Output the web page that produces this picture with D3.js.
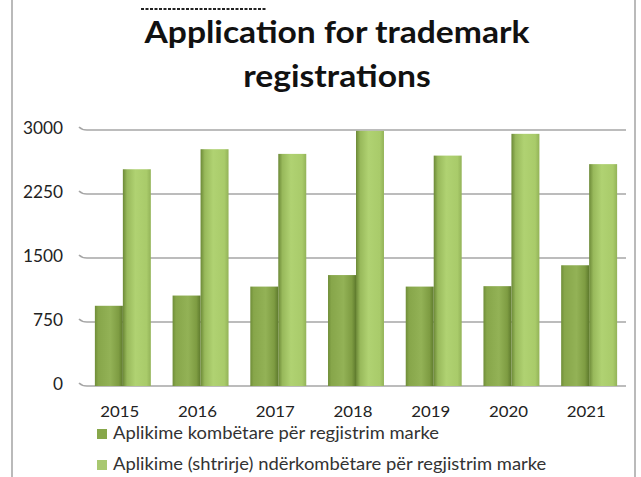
<!DOCTYPE html>
<html>
<head>
<meta charset="utf-8">
<script src="https://cdn.jsdelivr.net/npm/d3@7"></script>
<style>
  body { margin: 0; background: #fff; }
  svg { display: block; font-family: Lato, "Open Sans", sans-serif; }
</style>
</head>
<body>
<div id="chart"></div>
<script>
// chart data
const years = ['2015', '2016', '2017', '2018', '2019', '2020', '2021'];
const national = [940, 1060, 1165, 1300, 1165, 1170, 1415];
const international = [2540, 2775, 2720, 2990, 2700, 2955, 2600];
const seriesNames = [
  'Aplikime kombëtare për regjistrim marke',
  'Aplikime (shtrirje) ndërkombëtare për regjistrim marke'
];
const yTicks = [0, 750, 1500, 2250, 3000];
const titleLines = ['Application for trademark', 'registrations'];

const W = 641, H = 477;
const svg = d3.select('#chart').append('svg').attr('width', W).attr('height', H);

// squeeze / stretch text sideways so it takes the same room as in the source picture
function stretch(sel, factor) {
  sel.each(function () {
    const len = this.getComputedTextLength();
    d3.select(this).attr('textLength', len * factor).attr('lengthAdjust', 'spacingAndGlyphs');
  });
}

// shading gradients for the cylinder-ish bars
const defs = svg.append('defs');
function gradient(id, stops) {
  const g = defs.append('linearGradient').attr('id', id).attr('x1', 0).attr('x2', 1).attr('y1', 0).attr('y2', 0);
  stops.forEach(([o, c]) => g.append('stop').attr('offset', o).attr('stop-color', c));
}
gradient('gDark', [[0, '#6f8d38'], [0.12, '#87a64a'], [0.55, '#93b256'], [0.85, '#7e9c42'], [1, '#5e7a2d']]);
gradient('gLight', [[0, '#6c8937'], [0.15, '#98b95b'], [0.45, '#b0d272'], [0.85, '#a9cb6a'], [1, '#93b358']]);

// frame lines
svg.append('line').attr('x1', 12).attr('x2', 12).attr('y1', 0).attr('y2', H).attr('stroke', '#8c8c8c').attr('stroke-width', 1.2);
svg.append('line').attr('x1', 635).attr('x2', 635).attr('y1', 0).attr('y2', H).attr('stroke', '#8c8c8c').attr('stroke-width', 1.2);

// clipped remnant of text above the title
svg.append('line').attr('x1', 141).attr('x2', 266).attr('y1', 9).attr('y2', 9)
  .attr('stroke', '#222').attr('stroke-width', 2).attr('stroke-dasharray', '3,1.5');

// title
const title = svg.append('g').selectAll('text').data(titleLines).join('text')
  .attr('x', 337).attr('y', (d, i) => 43 + i * 44)
  .attr('text-anchor', 'middle').attr('font-weight', 700).attr('font-size', 30)
  .attr('fill', '#111').text((d) => d);
stretch(title, 385 / title.node().getComputedTextLength());

// scales
const x = d3.scaleBand().domain(years).range([84, 628]).paddingInner(0.28).paddingOuter(0.14);
const y = d3.scaleLinear().domain([0, 3000]).range([386, 130]);

// grid lines with the little 3D floor kink at the left
const grid = svg.append('g');
yTicks.forEach((t) => {
  const yy = y(t);
  grid.append('path')
    .attr('d', `M79,${yy - 3} Q82,${yy} 87,${yy} L626,${yy}`)
    .attr('fill', 'none').attr('stroke', '#a6a6a6').attr('stroke-width', 1.6);
});

// y axis labels
const yLabels = svg.append('g').selectAll('text').data(yTicks).join('text')
  .attr('x', 63).attr('y', (d) => y(d) + 4)
  .attr('text-anchor', 'end').attr('font-size', 16.5).attr('fill', '#222')
  .text((d) => d);
stretch(yLabels, 40 / yLabels.filter((d) => d === 3000).node().getComputedTextLength());

// bars
const bw = x.bandwidth() / 2;
const bars = svg.append('g');
years.forEach((yr, i) => {
  bars.append('rect').attr('x', x(yr)).attr('y', y(national[i]))
    .attr('width', bw).attr('height', y(0) - y(national[i])).attr('fill', 'url(#gDark)');
  bars.append('rect').attr('x', x(yr) + bw).attr('y', y(international[i]))
    .attr('width', bw).attr('height', y(0) - y(international[i])).attr('fill', 'url(#gLight)');
});

// x axis labels
const xLabels = svg.append('g').selectAll('text').data(years).join('text')
  .attr('x', (d) => x(d) + x.bandwidth() / 2 - 3).attr('y', 417)
  .attr('text-anchor', 'middle').attr('font-size', 15.5).attr('fill', '#222')
  .text((d) => d);
stretch(xLabels, 39 / xLabels.node().getComputedTextLength());

// legend
const legendColors = ['#87a74a', '#a8c870'];
const legend = svg.append('g');
seriesNames.forEach((name, i) => {
  const ly = 439 + i * 31;
  legend.append('rect').attr('x', 97).attr('y', ly - 10).attr('width', 10).attr('height', 10).attr('fill', legendColors[i]);
  legend.append('text').attr('x', 113).attr('y', ly).attr('font-size', 16.5).attr('fill', '#333').text(name);
});
const legendText = legend.selectAll('text');
stretch(legendText, 326 / legendText.node().getComputedTextLength());
</script>
</body>
</html>
